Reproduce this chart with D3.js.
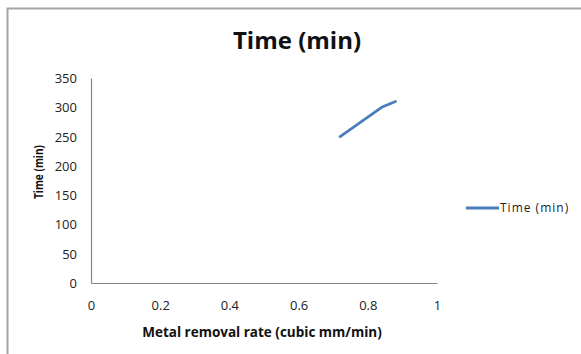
<!DOCTYPE html>
<html>
<head>
<meta charset="utf-8">
<script src="https://cdn.jsdelivr.net/npm/d3@7"></script>
<style>
  html, body { margin: 0; padding: 0; background: #fff; }
  svg { display: block; }
  text { font-family: "Open Sans", Lato, sans-serif; }
</style>
</head>
<body>
<script>
// Metal removal rate (cubic mm/min) vs machining time (min)
const removalRate = [0.72, 0.84, 0.88];
const timeMin = [250, 300, 310];
const xTicks = [0, 0.2, 0.4, 0.6, 0.8, 1];
const yTicks = [0, 50, 100, 150, 200, 250, 300, 350];
const seriesName = "Time (min)";
const chartTitle = "Time (min)";
const xTitle = "Metal removal rate (cubic mm/min)";
const yTitle = "Time (min)";

const W = 581, H = 354;
const svg = d3.select("body").append("svg").attr("width", W).attr("height", H);

// outer chart frame (top and left edges visible)
svg.append("path")
  .attr("d", `M7.5,${H} V8.5 H${W}`)
  .attr("fill", "none").attr("stroke", "#a6a6a6").attr("stroke-width", 2);

const x = d3.scaleLinear().domain([0, 1]).range([91, 437]);
const y = d3.scaleLinear().domain([0, 350]).range([283, 78]);

// axes
const xAxis = d3.axisBottom(x).tickValues(xTicks).tickSize(0).tickPadding(0)
  .tickFormat(d => d === 0 || d === 1 ? d3.format("d")(d) : d3.format(".1f")(d));
const gx = svg.append("g").attr("transform", `translate(0,${y(0)})`).call(xAxis);
gx.select(".domain").attr("stroke", "#868686").attr("stroke-width", 1.2);
gx.selectAll("text").attr("dy", null).attr("y", 27).attr("font-size", 13).attr("fill", "#222");

const yAxis = d3.axisLeft(y).tickValues(yTicks).tickSize(0).tickPadding(0);
const gy = svg.append("g").attr("transform", `translate(${x(0)},0)`).call(yAxis);
gy.select(".domain").attr("stroke", "#868686").attr("stroke-width", 1.2);
gy.selectAll("text").attr("x", -14).attr("dy", "0.35em").attr("font-size", 13).attr("fill", "#222");

// series line
const line = d3.line().x((d, i) => x(removalRate[i])).y(d => y(d));
svg.append("path").datum(timeMin)
  .attr("d", line)
  .attr("fill", "none").attr("stroke", "#4a7ebb").attr("stroke-width", 2.8)
  .attr("stroke-linecap", "round").attr("stroke-linejoin", "round");

// titles
svg.append("text").attr("x", 297).attr("y", 49).attr("text-anchor", "middle")
  .attr("font-size", 24).attr("font-weight", "bold").attr("fill", "#111").text(chartTitle);
svg.append("text").attr("x", 262).attr("y", 337).attr("text-anchor", "middle")
  .attr("font-size", 13.5).attr("font-weight", "bold").attr("fill", "#111").text(xTitle);
svg.append("text").attr("transform", "translate(42.5,172) rotate(-90)").attr("text-anchor", "middle")
  .attr("font-size", 12.5).attr("font-weight", "bold").attr("fill", "#111")
  .attr("textLength", 54).attr("lengthAdjust", "spacingAndGlyphs").text(yTitle);

// legend
const lg = svg.append("g").attr("transform", "translate(466,208)");
lg.append("line").attr("x1", 0).attr("x2", 33).attr("y1", 0).attr("y2", 0)
  .attr("stroke", "#4a7ebb").attr("stroke-width", 3);
lg.append("text").attr("x", 34).attr("y", 0).attr("dy", "0.35em")
  .attr("font-size", 12).attr("letter-spacing", 1).attr("fill", "#222").text(seriesName);
</script>
</body>
</html>
